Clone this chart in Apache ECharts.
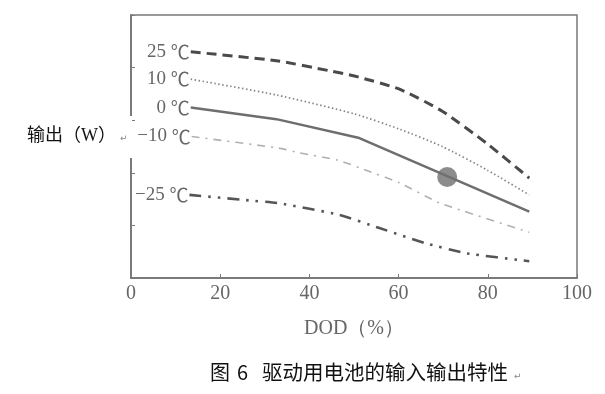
<!DOCTYPE html>
<html><head><meta charset="utf-8">
<script src="https://cdn.jsdelivr.net/npm/echarts@6/dist/echarts.min.js"></script>
<style>html,body{margin:0;padding:0;background:#fff}#c{width:605px;height:394px}</style>
</head><body><div id="c"></div>
<script>
const xTicks = [0, 20, 40, 60, 80, 100];
const temps = ['25', '10', '0', '−10', '−25'];
const unit = '℃';
const dod25 = [13.4, 32.6, 44.5, 50.1, 60.2, 69.8, 79.9, 89.3];
const out25 = [4.30, 4.13, 3.94, 3.84, 3.59, 3.17, 2.55, 1.90];
const dod10 = [13.4, 32.6, 50.1, 60.2, 69.8, 79.9, 89.3];
const out10 = [3.78, 3.48, 3.12, 2.83, 2.50, 2.05, 1.58];
const dod0 = [13.4, 32.6, 51.2, 89.3];
const out0 = [3.24, 3.02, 2.66, 1.26];
const dodM10 = [13.6, 33.1, 37.8, 46.4, 52.7, 60.2, 69.1, 89.3];
const outM10 = [2.69, 2.47, 2.38, 2.24, 2.05, 1.81, 1.43, 0.87];
const dodM25 = [13.1, 25.8, 33.3, 46.7, 55.7, 66.1, 75.1, 89.3];
const outM25 = [1.58, 1.48, 1.42, 1.20, 0.95, 0.66, 0.47, 0.32];
const markerDod = [70.9];
const markerOut = [1.92];

const serif = "'Liberation Serif','DejaVu Serif',serif";

function build(xs, ys, name) {
  return xs.map((x, i) => {
    if (i === 0) {
      return { value: [x, ys[i]], label: { show: true, position: 'left', distance: 1,
        formatter: name + ' {u|' + unit + '}',
        color: '#666', fontFamily: serif, fontSize: 19,
        rich: { u: { color: '#666', fontFamily: "'Noto Sans CJK SC'", fontSize: 19 } } } };
    }
    return { value: [x, ys[i]], label: { show: false } };
  });
}
const styles = [
  { color: '#4a4a4a', width: 3, type: [10, 6], smooth: 0.2 },
  { color: '#858585', width: 1.7, type: [1.5, 2.5], smooth: 0.2 },
  { color: '#6e6e6e', width: 2.5, type: 'solid', smooth: 0 },
  { color: '#b0b0b0', width: 1.6, type: [8, 6, 2, 6], smooth: 0.15 },
  { color: '#555555', width: 2.6, type: [12, 7, 2.5, 7, 2.5, 7], smooth: 0.15 }
];
const sets = [[dod25, out25], [dod10, out10], [dod0, out0], [dodM10, outM10], [dodM25, outM25]];
const series = sets.map((s, k) => ({
  type: 'line', name: temps[k], data: build(s[0], s[1], temps[k]),
  symbol: 'circle', symbolSize: 0.01, showSymbol: true, showAllSymbol: true,
  itemStyle: { color: 'rgba(0,0,0,0)', borderWidth: 0 },
  smooth: styles[k].smooth,
  lineStyle: { color: styles[k].color, width: styles[k].width, type: styles[k].type },
  labelLayout: { hideOverlap: false },
  z: 3
}));
series.push({
  type: 'scatter', data: markerDod.map((x, i) => [x, markerOut[i]]), symbol: 'circle', symbolSize: 20,
  itemStyle: { color: '#6f6f6f' }, z: 5
});

const chart = echarts.init(document.getElementById('c'), null, { renderer: 'canvas' });
chart.setOption({
  animation: false,
  grid: { left: 131, top: 15, right: 28, bottom: 116, show: true, borderColor: '#7a7a7a', borderWidth: 1.5, backgroundColor: 'transparent' },
  xAxis: {
    type: 'value', min: xTicks[0], max: xTicks[xTicks.length - 1], interval: 20,
    name: 'DOD（%）', nameLocation: 'middle', nameGap: 41,
    nameTextStyle: { color: '#666', fontFamily: serif, fontSize: 20 },
    axisLine: { show: true, lineStyle: { color: '#7a7a7a', width: 2 } },
    axisTick: { show: true, inside: true, length: 4, lineStyle: { color: '#7a7a7a' } },
    axisLabel: { color: '#666', fontFamily: serif, fontSize: 20, margin: 6 },
    splitLine: { show: false }
  },
  yAxis: {
    type: 'value', min: 0, max: 5, interval: 1,
    axisLine: { show: true, lineStyle: { color: '#7a7a7a', width: 2 } },
    axisTick: { show: true, inside: true, length: 4, lineStyle: { color: '#7a7a7a' } },
    axisLabel: { show: false },
    splitLine: { show: false }
  },
  graphic: [
    { type: 'rect', left: 118, top: 116, shape: { width: 14, height: 42 }, style: { fill: '#fff' }, z: 100 },
    { type: 'text', left: 27, top: 127, style: { text: '输出（W）', fill: '#111', font: "18px 'Liberation Serif','Noto Sans CJK SC'" }, z: 101 },
    { type: 'text', left: 120, top: 134, style: { text: '↵', fill: '#888', font: "9px 'DejaVu Sans'" }, z: 101 },
    { type: 'text', left: 210, top: 362, style: { text: '图', fill: '#111', font: "20px 'Noto Sans CJK SC'" }, z: 101 },
    { type: 'text', left: 237, top: 362, style: { text: '6', fill: '#111', font: "20px 'Noto Sans CJK SC'" }, z: 101 },
    { type: 'text', left: 262, top: 362, style: { text: '驱动用电池的输入输出特性', fill: '#111', font: "20.5px 'Noto Sans CJK SC'" }, z: 101 },
    { type: 'text', left: 514, top: 372, style: { text: '↵', fill: '#888', font: "9px 'DejaVu Sans'" }, z: 101 }
  ],
  series: series
});
</script></body></html>
